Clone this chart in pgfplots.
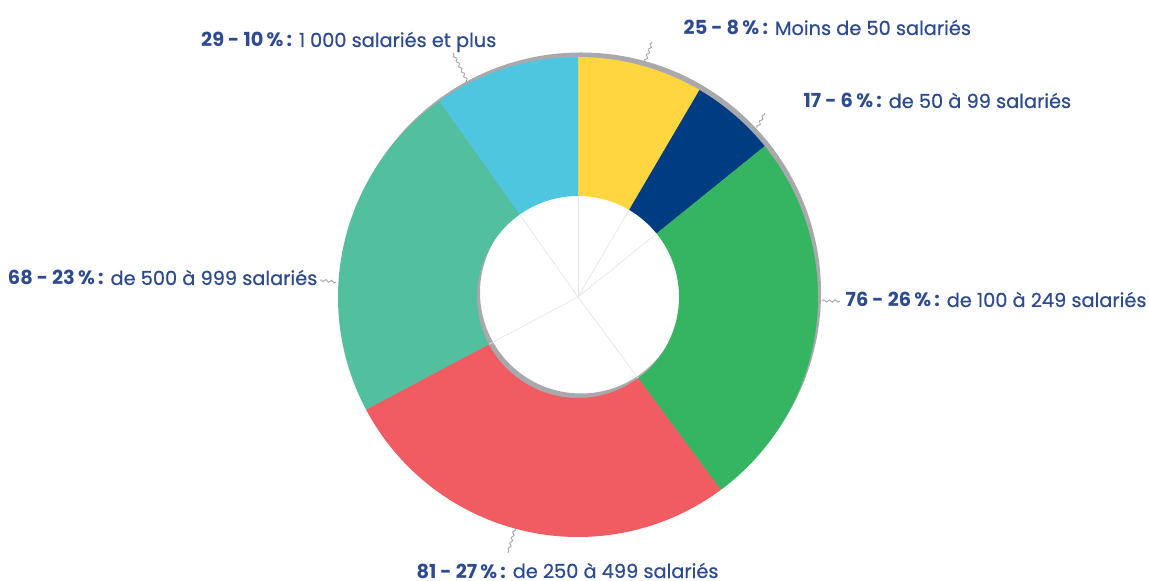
\documentclass[border=0pt]{standalone}
\usepackage{pgfplots}
\pgfplotsset{compat=1.18}
\usepackage{pgfplotstable}
\usepackage{fontspec}
\setmainfont{Poppins}[UprightFeatures={FakeBold=0.6}]
\usetikzlibrary{decorations.pathmorphing}

\definecolor{col0}{HTML}{FFD640}
\definecolor{col1}{HTML}{003C82}
\definecolor{col2}{HTML}{35B562}
\definecolor{col3}{HTML}{F15B62}
\definecolor{col4}{HTML}{52BF9E}
\definecolor{col5}{HTML}{4EC6E0}
\definecolor{shadow}{HTML}{A9A9AD}
\definecolor{txt}{HTML}{2D4B8E}

% number of employees per company size, clockwise from the top
\pgfplotstableread{
n value
0 25
1 17
2 76
3 81
4 68
5 29
}\slices

% total and cumulative angles
\def\total{0}
\foreach \i in {0,...,5}{%
  \pgfplotstablegetelem{\i}{value}\of\slices
  \pgfmathsetmacro{\tmpsum}{\total+\pgfplotsretval}%
  \xdef\total{\tmpsum}}
\def\acc{90}
\foreach \i in {0,...,5}{%
  \pgfplotstablegetelem{\i}{value}\of\slices
  \pgfmathsetmacro{\angend}{\acc-\pgfplotsretval*(360/\total)}%
  \expandafter\xdef\csname angS\i\endcsname{\acc}%
  \expandafter\xdef\csname angE\i\endcsname{\angend}%
  \xdef\acc{\angend}}

\def\ro{2.40}
\def\ri{1.01}

\begin{document}
\begin{tikzpicture}[
  lbl/.style={text=txt,inner sep=0pt,font=\fontsize{5.5}{6.5}\selectfont},
  lead/.style={draw=gray!70,line width=0.25pt,
    decorate,decoration={snake,amplitude=0.35pt,segment length=1.6pt}},
]
\begin{axis}[
  x=1cm,y=1cm,
  xmin=-5.78,xmax=5.71,ymin=-2.83,ymax=2.97,
  hide axis,clip=false,
]
\path (rel axis cs:0,0) rectangle (rel axis cs:1,1);
% drop shadow
\fill[shadow,even odd rule] (axis cs:0.03,0.045) circle[radius=\ro]
  (axis cs:0.03,0.045) circle[radius=\ri];
% ring slices
\pgfplotsinvokeforeach{0,...,5}{
  \fill[col#1]
    (axis cs:{\ro*cos(\csname angS#1\endcsname)},{\ro*sin(\csname angS#1\endcsname)})
    arc[start angle=\csname angS#1\endcsname,end angle=\csname angE#1\endcsname,radius=\ro]
    -- (axis cs:{\ri*cos(\csname angE#1\endcsname)},{\ri*sin(\csname angE#1\endcsname)})
    arc[start angle=\csname angE#1\endcsname,end angle=\csname angS#1\endcsname,radius=\ri]
    -- cycle;
  \draw[black!10,line width=0.2pt] (axis cs:0,0)
    -- (axis cs:{\ri*cos(\csname angS#1\endcsname)},{\ri*sin(\csname angS#1\endcsname)});
}
% leader lines
\draw[lead] (axis cs:0.67,2.35) -- (axis cs:0.74,2.55);
\draw[lead] (axis cs:1.79,1.69) -- (axis cs:1.87,1.84);
\draw[lead] (axis cs:2.44,-0.04) -- (axis cs:2.62,-0.04);
\draw[lead] (axis cs:-0.63,-2.31) -- (axis cs:-0.70,-2.56);
\draw[lead] (axis cs:-2.42,0.15) -- (axis cs:-2.58,0.17);
\draw[lead] (axis cs:-1.10,2.14) -- (axis cs:-1.25,2.44);
% labels
\node[lbl,anchor=base west] at (axis cs:1.05,2.62)
  {\textbf{25 - 8\,\%\,:} Moins de 50 salariés};
\node[lbl,anchor=base west] at (axis cs:2.25,1.89)
  {\textbf{17 - 6\,\%\,:} de 50 à 99 salariés};
\node[lbl,anchor=base west] at (axis cs:2.67,-0.10)
  {\textbf{76 - 26\,\%\,:} de 100 à 249 salariés};
\node[lbl,anchor=base] at (axis cs:-0.105,-2.81)
  {\textbf{81 - 27\,\%\,:} de 250 à 499 salariés};
\node[lbl,anchor=base east] at (axis cs:-2.60,0.12)
  {\textbf{68 - 23\,\%\,:} de 500 à 999 salariés};
\node[lbl,anchor=base east] at (axis cs:-0.81,2.50)
  {\textbf{29 - 10\,\%\,:} 1\hspace{0.25em}000 salariés et plus};
\end{axis}
\end{tikzpicture}
\end{document}
